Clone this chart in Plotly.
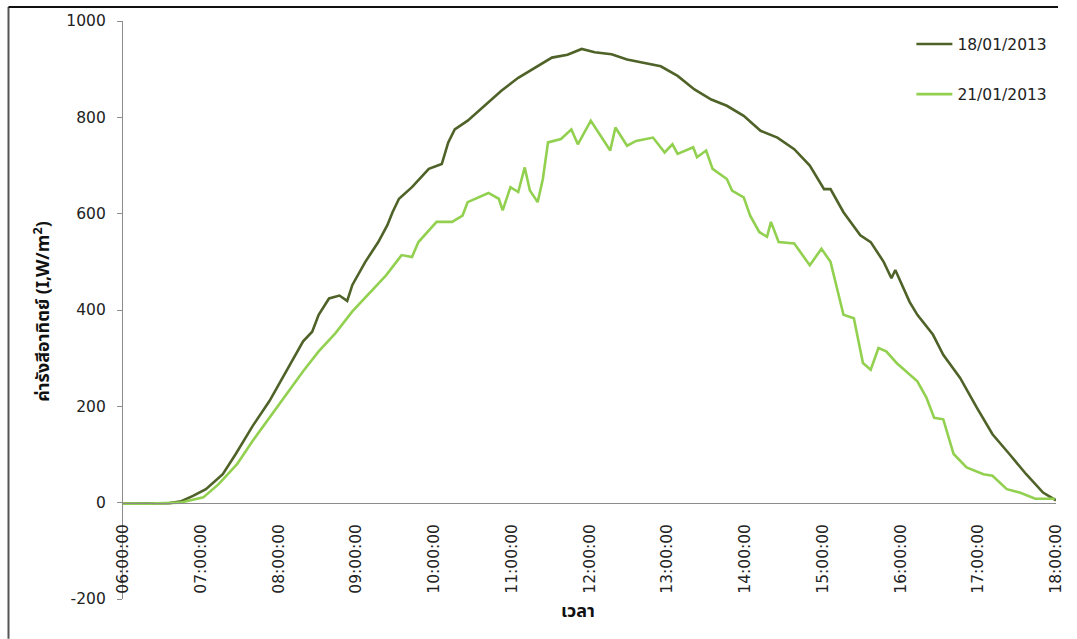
import plotly.graph_objects as go

# ---- data ----
series_names = ["18/01/2013", "21/01/2013"]

t_18 = ["06:00", "06:18", "06:36", "06:45", "06:54", "07:04", "07:17", "07:27", "07:40", "07:53",
        "08:06", "08:19", "08:26", "08:31", "08:39", "08:47", "08:53", "08:57", "09:07", "09:17",
        "09:24", "09:28", "09:33", "09:43", "09:56", "10:06", "10:11", "10:16", "10:26", "10:40",
        "10:52", "11:05", "11:20", "11:31", "11:43", "11:54", "12:04", "12:17", "12:29", "12:43",
        "12:55", "13:08", "13:21", "13:34", "13:46", "13:59", "14:12", "14:25", "14:38", "14:50",
        "15:01", "15:06", "15:16", "15:29", "15:37", "15:47", "15:53", "15:56", "16:07", "16:13",
        "16:25", "16:33", "16:46", "16:59", "17:11", "17:24", "17:37", "17:50", "17:59", "18:00"]
v_18 = [-2, -2, -1, 3, 14, 28, 59, 101, 159, 211,
        273, 335, 355, 390, 424, 430, 419, 452, 500, 541,
        576, 603, 631, 655, 693, 703, 748, 775, 793, 827,
        855, 882, 906, 924, 930, 942, 935, 931, 920, 913,
        906, 886, 858, 837, 824, 803, 772, 758, 734, 700,
        651, 651, 603, 555, 541, 500, 466, 483, 417, 390,
        349, 307, 259, 197, 142, 101, 59, 21, 8, 5]

t_21 = ["06:00", "06:20", "06:44", "07:02", "07:14", "07:28", "07:40", "07:53", "08:06", "08:19",
        "08:31", "08:44", "08:57", "09:10", "09:23", "09:35", "09:43", "09:48", "09:56", "10:02",
        "10:14", "10:22", "10:26", "10:34", "10:42", "10:50", "10:53", "10:59", "11:05", "11:10",
        "11:14", "11:20", "11:24", "11:28", "11:38", "11:46", "11:51", "12:01", "12:07", "12:16",
        "12:20", "12:29", "12:36", "12:49", "12:58", "13:04", "13:08", "13:20", "13:23", "13:30",
        "13:35", "13:46", "13:50", "13:59", "14:04", "14:11", "14:17", "14:20", "14:26", "14:38",
        "14:50", "14:59", "15:06", "15:16", "15:24", "15:31", "15:37", "15:43", "15:49", "15:57",
        "16:13", "16:20", "16:26", "16:33", "16:41", "16:51", "17:04", "17:11", "17:22", "17:32",
        "17:44", "17:59"]
v_21 = [-2, -2, 0, 11, 39, 80, 128, 176, 225, 273,
        314, 352, 397, 434, 472, 514, 510, 541, 565, 583,
        583, 596, 624, 634, 643, 631, 607, 655, 645, 696,
        648, 624, 672, 748, 755, 775, 744, 793, 769, 731,
        779, 741, 751, 758, 727, 744, 724, 738, 717, 731,
        693, 672, 648, 634, 596, 562, 552, 583, 541, 538,
        493, 527, 500, 390, 383, 290, 276, 321, 314, 290,
        252, 218, 176, 173, 101, 73, 59, 56, 28, 21,
        8, 8]

colors = ["#4F6228", "#92D050"]
day = "2013-01-18 "
x_ticks = ["%02d:00:00" % h for h in range(6, 19)]
y_ticks = [-200, 0, 200, 400, 600, 800, 1000]

# ---- layout constants ----
W, H = 1077, 639
ML, MR, MT, MB = 123, 17, 18, 40
PW, PH = W - ML - MR, H - MT - MB


def px_x(p):
    return (p - ML) / PW


def px_y(p):
    return (H - MB - p) / PH


fig = go.Figure()
for i, (tt, vv) in enumerate([(t_18, v_18), (t_21, v_21)]):
    fig.add_trace(go.Scatter(
        x=[day + t for t in tt], y=vv, mode="lines", name=series_names[i],
        line=dict(color=colors[i], width=2.6), legendgroup="g%d" % i,
    ))

FONT = "DejaVu Sans, Verdana, sans-serif"
tick_font = dict(family=FONT, size=15.5, color="#222")
thai_font = dict(family="Tahoma, 'Noto Sans Thai', sans-serif", size=18, color="#111")
y_lo, y_hi = -200, 1000
zero_pos = (0 - y_lo) / (y_hi - y_lo)

fig.update_layout(
    width=W, height=H,
    margin=dict(l=ML, r=MR, t=MT, b=MB),
    paper_bgcolor="white", plot_bgcolor="white",
    showlegend=True,
    legend=dict(x=0.845, y=0.989, xanchor="left", yanchor="top",
                font=dict(family=FONT, size=15.5, color="#222"),
                tracegroupgap=27, bgcolor="rgba(0,0,0,0)", itemwidth=36),
    xaxis=dict(
        type="date",
        range=[day + "06:00:00", day + "18:00:00"],
        tickvals=[day + t for t in x_ticks], ticktext=x_ticks,
        tickangle=-90, tickfont=tick_font,
        showgrid=False, zeroline=False,
        showline=True, linecolor="#8c8c8c", linewidth=1.3,
        anchor="free", position=zero_pos,
        ticks="", ticklabelstandoff=14,
    ),
    yaxis=dict(
        range=[y_lo, y_hi], tickvals=y_ticks, ticktext=[str(v) for v in y_ticks],
        tickfont=tick_font, showgrid=False, zeroline=False,
        showline=True, linecolor="#8c8c8c", linewidth=1.3,
        ticks="outside", ticklen=5, tickcolor="#8c8c8c", tickwidth=1.3,
        ticklabelstandoff=8, domain=[0, 1],
    ),
    annotations=[
        dict(text="<b>ค่ารังสีอาทิตย์ (I,W/m<sup>2</sup>)</b>", xref="paper", yref="paper",
             x=px_x(43), y=px_y(310), textangle=-90, showarrow=False,
             xanchor="center", yanchor="middle", font=thai_font),
        dict(text="<b>เวลา</b>", xref="paper", yref="paper",
             x=px_x(580), y=px_y(612), showarrow=False,
             xanchor="center", yanchor="middle", font=thai_font),
    ],
    shapes=[
        dict(type="line", xref="paper", yref="paper", x0=px_x(8), x1=px_x(8),
             y0=px_y(4), y1=px_y(639), line=dict(color="#555", width=2)),
        dict(type="line", xref="paper", yref="paper", x0=px_x(8), x1=px_x(1062),
             y0=px_y(4), y1=px_y(4), line=dict(color="#111", width=2)),
    ],
)

fig.write_html(
    "out.html",
    config={"displayModeBar": False},
    post_script="document.body.style.margin='0';document.body.style.overflow='hidden';",
)
